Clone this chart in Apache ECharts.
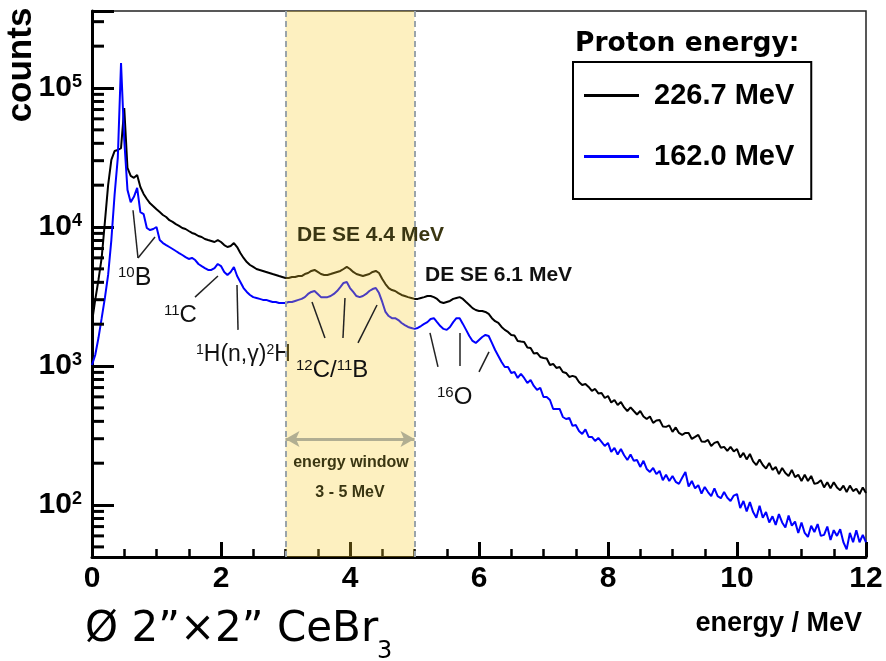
<!DOCTYPE html>
<html>
<head>
<meta charset="utf-8">
<script src="https://cdn.jsdelivr.net/npm/echarts@6/dist/echarts.min.js"></script>
<style>html,body{margin:0;padding:0;background:#fff}#c{width:886px;height:661px}</style>
</head>
<body>
<div id="c"></div>
<script>
// bin centres (MeV), 0.05 MeV bins
const energies = Array.from({length: 241}, (_, i) => +(i * 0.05).toFixed(2));

// counts, proton energy 226.7 MeV
const counts226 = [
2070,2990,4160,5990,10900,20000,30400,35200,35800,37000,
71800,26600,23300,22600,23700,19400,17300,15900,14800,14100,
13400,12800,12200,11800,11200,10900,10500,10200,9840,9680,
9360,9060,8900,8620,8480,8200,8060,7930,7800,8060,
7800,7420,7180,7300,7670,7180,6500,5990,5600,5330,
5160,4990,4910,4830,4750,4670,4590,4520,4440,4370,
4300,4300,4370,4370,4440,4440,4590,4670,4830,4910,
4750,4590,4520,4520,4590,4670,4750,4830,4990,5160,
4990,4750,4590,4520,4440,4520,4590,4750,4830,4670,
4230,3890,3640,3520,3465,3350,3245,3190,3130,3090,
3040,3040,3090,3130,3190,3190,3130,3040,2890,2840,
2890,2940,3040,3090,3130,3040,2890,2750,2610,2530,
2490,2490,2450,2370,2210,2100,2040,1910,1820,1760,
1673,1660,1515,1500,1490,1360,1349,1230,1242,1162,
1143,1133,1018,1035,969,985,907,892,835,849,
835,768,731,743,707,662,684,635,640,589,
609,547,570,525,552,504,475,504,475,448,
475,434,416,434,390,406,409,368,365,374,
336,362,330,320,330,330,299,309,320,287,
285,294,266,280,285,258,262,245,262,243,
253,220,237,213,233,206,194,213,194,183,
201,179,188,167,185,170,162,179,159,165,
149,165,149,162,142,144,151,134,146,132,
146,134,128,138,124,138,126,131,120,134,
122
];

// counts, proton energy 162.0 MeV
const counts162 = [
1018,1201,1590,2210,3090,4520,8060,17000,31400,151000,
42300,18500,15100,16500,19100,12800,12400,9840,9510,9680,
10000,8060,7670,7420,7180,6950,6720,6500,6290,6080,
5890,5990,5790,5420,5240,5070,4910,4910,5070,5420,
5240,4750,4520,4750,5160,4440,4020,3640,3410,3245,
3130,3090,3040,2990,2990,2940,2890,2890,2840,2840,
2840,2890,2890,2940,2990,3040,3130,3300,3410,3465,
3300,3130,3130,3130,3190,3300,3465,3700,3960,4020,
3640,3410,3190,3130,3190,3300,3465,3580,3640,3350,
2890,2450,2290,2210,2210,2140,2040,1970,1910,1880,
1850,1880,1940,2010,2070,2180,2210,2070,1940,1850,
1820,1910,2070,2210,2210,2010,1820,1645,1515,1466,
1540,1618,1673,1645,1466,1305,1182,1070,985,985,
892,907,821,877,821,756,794,719,673,696,
599,599,570,491,491,491,430,416,423,371,
377,341,325,350,309,309,289,304,285,266,
280,241,258,231,253,228,211,231,208,211,
188,208,182,173,185,167,176,151,165,149,
162,147,142,157,173,136,149,132,139,121,
135,124,116,132,116,112,124,113,107,117,
120,95,107,90,105,89,81,99,81,89,
75,83,72,86,75,69,84,71,76,63,
75,63,59,71,64,73,60,61,70,56,
66,60,67,54,48,63,54,66,54,61,
54
];

const seriesNames = ['226.7 MeV', '162.0 MeV'];
const xTicks = {min: 0, max: 12, interval: 2};
const yRange = {min: 42.3, max: 358000};
const minorTickValues = [50,60,70,80,90,200,300,400,500,600,700,800,900,
  2000,3000,4000,5000,6000,7000,8000,9000,20000,30000,40000,50000,60000,70000,80000,90000,200000,300000];
const windowRange = [3, 5];
const arrowLevel = 299;

// annotation leader lines (data coordinates)
const leaders = [
  [[0.636, 13200], [0.713, 5990]], [[0.713, 5990], [0.977, 8480]],
  [[1.597, 3130], [1.953, 4440]],
  [[2.248, 3830], [2.264, 1820]],
  [[3.411, 2890], [3.612, 1592]], [[3.922, 3090], [3.891, 1592]], [[4.419, 2750], [4.124, 1466]],
  [[5.240, 1730], [5.364, 985]], [[5.705, 1730], [5.705, 1001]], [[6.155, 1263], [6.000, 907]]
];

const pair = arr => energies.map((e, i) => [e, arr[i]]);
const LS = '"Liberation Sans", Arial, sans-serif';
const DV = '"DejaVu Sans", sans-serif';

const chart = echarts.init(document.getElementById('c'), null, {renderer: 'canvas'});

const isPow10 = v => { const l = Math.log10(v); return Math.abs(l - Math.round(l)) < 1e-6; };

const option = {
  backgroundColor: '#fff',
  animation: false,
  grid: {left: 92, right: 20, top: 11, bottom: 104, show: true, borderColor: '#222', borderWidth: 1.5, outerBoundsMode: 'none'},
  xAxis: {
    type: 'value', min: xTicks.min, max: xTicks.max, interval: xTicks.interval,
    axisLine: {show: true, onZero: false, lineStyle: {color: '#000', width: 3}},
    axisTick: {show: true, inside: true, length: 15, lineStyle: {color: '#000', width: 3}},
    minorTick: {show: true, splitNumber: 4, length: 8, lineStyle: {color: '#000', width: 2.5}},
    splitLine: {show: false},
    axisLabel: {margin: 7, color: '#000', fontFamily: LS, fontWeight: 'bold', fontSize: 30}
  },
  yAxis: {
    type: 'log', logBase: 10, min: yRange.min, max: yRange.max,
    axisLine: {show: true, lineStyle: {color: '#000', width: 3}},
    axisTick: {show: true, inside: true, length: 22, lineStyle: {color: '#000', width: 3}},
    splitLine: {show: false},
    axisLabel: {
      margin: 10, color: '#000',
      formatter: v => isPow10(v) ? '{b|10}{e|' + Math.round(Math.log10(v)) + '}' : '',
      rich: {
        b: {fontFamily: LS, fontWeight: 'bold', fontSize: 30, lineHeight: 30, color: '#000'},
        e: {fontFamily: LS, fontWeight: 'bold', fontSize: 18, lineHeight: 18, verticalAlign: 'top', color: '#000'}
      }
    }
  },
  legend: {
    data: seriesNames, orient: 'vertical', left: 573, top: 62,
    icon: 'rect', itemWidth: 55, itemHeight: 3, itemGap: 32,
    padding: [19, 17, 28, 11],
    borderColor: '#000', borderWidth: 2,
    textStyle: {fontFamily: LS, fontWeight: 'bold', fontSize: 29, color: '#000', padding: [0, 0, 0, 10]},
    selectedMode: false
  },
  series: [
    {name: seriesNames[0], type: 'line', data: pair(counts226), showSymbol: false, symbol: 'none',
     lineStyle: {color: '#000', width: 2}, itemStyle: {color: '#000'}, z: 2, silent: true},
    {name: seriesNames[1], type: 'line', data: pair(counts162), showSymbol: false, symbol: 'none',
     lineStyle: {color: '#0000ff', width: 2}, itemStyle: {color: '#0000ff'}, z: 2, silent: true},
    {type: 'custom', silent: true, z: 4, clip: false,
     data: minorTickValues.map(v => [0, v]),
     renderItem: (params, api) => {
       const p = api.coord([0, api.value(1)]);
       return {type: 'line', shape: {x1: p[0], y1: p[1], x2: p[0] + 12, y2: p[1]}, style: {stroke: '#000', lineWidth: 3}};
     }},
    {type: 'line', data: [], z: 5, silent: true,
     markArea: {silent: true, z: 5, itemStyle: {color: 'rgba(248,205,45,0.30)'},
       data: [[{xAxis: windowRange[0]}, {xAxis: windowRange[1]}]]},
     markLine: {silent: true, z: 6, symbol: 'none', label: {show: false},
       lineStyle: {color: '#9aa4ab', width: 2, type: [6, 4]},
       data: [{xAxis: windowRange[0]}, {xAxis: windowRange[1]}]}},
    {type: 'line', data: [], z: 6, silent: true,
     markLine: {silent: true, z: 6, symbol: ['arrow', 'arrow'], symbolSize: [12, 14], label: {show: false},
       lineStyle: {color: '#b1ae92', width: 3, type: 'solid'},
       data: [[{coord: [windowRange[0], arrowLevel]}, {coord: [windowRange[1], arrowLevel]}]]}},
    {type: 'line', data: [], z: 6, silent: true,
     markLine: {silent: true, z: 6, symbol: 'none', label: {show: false},
       lineStyle: {color: '#222', width: 1.5, type: 'solid'},
       data: leaders.map(l => [{coord: l[0]}, {coord: l[1]}])}}
  ],
  graphic: [
    {type: 'text', x: 21, y: 65, rotation: Math.PI / 2,
     style: {text: 'counts', font: 'bold 35px ' + LS, fill: '#000', align: 'center', verticalAlign: 'middle'}},
    {type: 'text', x: 862, y: 624,
     style: {text: 'energy / MeV', font: 'bold 27px ' + LS, fill: '#000', align: 'right', verticalAlign: 'middle'}},
    {type: 'text', x: 575, y: 44,
     style: {text: 'Proton energy:', font: 'bold 26.5px ' + DV, fill: '#000', align: 'left', verticalAlign: 'middle'}},
    {type: 'text', x: 85, y: 630,
     style: {text: 'Ø 2”×2” CeBr', font: '42px ' + DV, fill: '#000', align: 'left', verticalAlign: 'middle'}},
    {type: 'text', x: 377, y: 652,
     style: {text: '3', font: '24px ' + DV, fill: '#000', align: 'left', verticalAlign: 'middle'}},
    {type: 'text', x: 297, y: 235, z: 10,
     style: {text: 'DE SE 4.4 MeV', font: 'bold 21px ' + LS, fill: '#3a3612', align: 'left', verticalAlign: 'middle'}},
    {type: 'text', x: 425, y: 275,
     style: {text: 'DE SE 6.1 MeV', font: 'bold 21px ' + LS, fill: '#111', align: 'left', verticalAlign: 'middle'}},
    {type: 'text', x: 351, y: 463, z: 10,
     style: {text: 'energy window', font: 'bold 16px ' + LS, fill: '#3a3612', align: 'center', verticalAlign: 'middle'}},
    {type: 'text', x: 350, y: 493, z: 10,
     style: {text: '3 - 5 MeV', font: 'bold 16px ' + LS, fill: '#3a3612', align: 'center', verticalAlign: 'middle'}},
    {type: 'text', x: 118, y: 278,
     style: {text: '{s|10}{n|B}', align: 'left', verticalAlign: 'middle',
       rich: {s: {fontFamily: LS, fontSize: 15, lineHeight: 15, verticalAlign: 'top', fill: '#111'},
              n: {fontFamily: LS, fontSize: 25, lineHeight: 25, fill: '#111'}}}},
    {type: 'text', x: 164, y: 315,
     style: {text: '{s|11}{n|C}', align: 'left', verticalAlign: 'middle',
       rich: {s: {fontFamily: LS, fontSize: 15, lineHeight: 15, verticalAlign: 'top', fill: '#111'},
              n: {fontFamily: LS, fontSize: 24, lineHeight: 24, fill: '#111'}}}},
    {type: 'text', x: 196, y: 355,
     style: {text: '{s|1}{n|H(n,γ)}{s|2}{n|H}', align: 'left', verticalAlign: 'middle',
       rich: {s: {fontFamily: LS, fontSize: 14, lineHeight: 14, verticalAlign: 'top', fill: '#111'},
              n: {fontFamily: LS, fontSize: 23, lineHeight: 23, fill: '#111'}}}},
    {type: 'text', x: 296, y: 370, z: 10,
     style: {text: '{s|12}{n|C/}{s|11}{n|B}', align: 'left', verticalAlign: 'middle',
       rich: {s: {fontFamily: LS, fontSize: 15, lineHeight: 15, verticalAlign: 'top', fill: '#111'},
              n: {fontFamily: LS, fontSize: 24, lineHeight: 24, fill: '#111'}}}},
    {type: 'text', x: 437, y: 397,
     style: {text: '{s|16}{n|O}', align: 'left', verticalAlign: 'middle',
       rich: {s: {fontFamily: LS, fontSize: 15, lineHeight: 15, verticalAlign: 'top', fill: '#111'},
              n: {fontFamily: LS, fontSize: 24, lineHeight: 24, fill: '#111'}}}}
  ]
};
chart.setOption(option);
</script>
</body>
</html>
